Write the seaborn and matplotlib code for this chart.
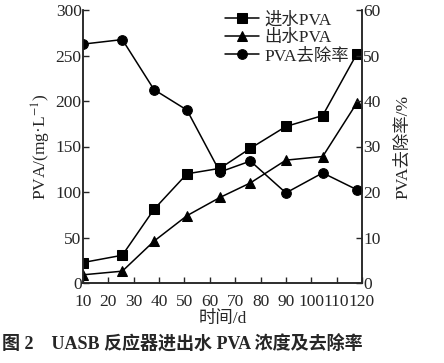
import matplotlib
matplotlib.use("Agg")
import matplotlib.pyplot as plt
import seaborn as sns
import pandas as pd

# data
days = [10, 25.5, 38, 51, 64, 76, 90, 104.5, 118]
pva_in = [22.5, 30.5, 81, 120, 126, 148, 172, 184, 252]
pva_out = [9, 13, 46, 74, 94, 110, 135, 139, 198]
removal = [52.5, 53.5, 42.5, 38, 24.4, 26.8, 19.8, 24.2, 20.5]

xticks = list(range(10, 121, 10))
left_ticks = [0, 50, 100, 150, 200, 250, 300]
right_ticks = [0, 10, 20, 30, 40, 50, 60]

sns.set_style("ticks")
fonts = ["Liberation Serif", "Noto Sans CJK SC"]
plt.rcParams["font.family"] = fonts
plt.rcParams["mathtext.fontset"] = "stix"
plt.rcParams["axes.linewidth"] = 1.1
plt.rcParams["xtick.direction"] = "in"
plt.rcParams["ytick.direction"] = "in"
fs = 12.5

df = pd.DataFrame({"day": days, "in": pva_in, "out": pva_out, "rem": removal})

fig = plt.figure(figsize=(4.44, 3.63), dpi=100)
ax = fig.add_axes([83 / 444, 1 - 283 / 363, 279 / 444, 273 / 363])
ax2 = ax.twinx()

kw = dict(color="black", linewidth=1.1, markersize=7, markeredgecolor="black")
sns.lineplot(data=df, x="day", y="in", marker="s", ax=ax, label="进水PVA", legend=False, **kw)
sns.lineplot(data=df, x="day", y="out", marker="^", ax=ax, label="出水PVA", legend=False, **kw)
sns.lineplot(data=df, x="day", y="rem", marker="o", ax=ax2, label="PVA去除率", legend=False, **kw)

ax.set_xlim(10, 120)
ax.set_ylim(0, 300)
ax2.set_ylim(0, 60)
ax.set_xticks(xticks)
ax.set_yticks(left_ticks)
ax2.set_yticks(right_ticks)
ax.spines["top"].set_visible(False)
ax2.spines["top"].set_visible(False)
ax.tick_params(axis="y", length=4, width=1, pad=1, labelsize=fs)
ax.tick_params(axis="x", length=4, width=1, pad=8, labelsize=fs)
ax2.tick_params(length=4, width=1, pad=1, labelsize=fs)

ax.set_xlabel("时间/d", fontsize=fs, labelpad=1)
ax.set_ylabel("PVA/(mg·L$^{-1}$)", fontsize=fs, labelpad=2)
ax2.set_ylabel("PVA去除率/%", fontsize=fs, labelpad=10)

handles = ax.get_lines()[:2] + ax2.get_lines()[:1]
ax.legend(handles, [h.get_label() for h in handles], loc="upper left",
          bbox_to_anchor=(0.47, 1.03), frameon=False, handlelength=2.0,
          handletextpad=0.3, labelspacing=0.1, fontsize=fs, borderaxespad=0.2)

fig.text(0.41, 0.05, "图 2    UASB 反应器进出水 PVA 浓度及去除率",
         ha="center", va="center", fontsize=13, fontweight="bold", family=fonts)

fig.savefig("out.png", dpi=100)
